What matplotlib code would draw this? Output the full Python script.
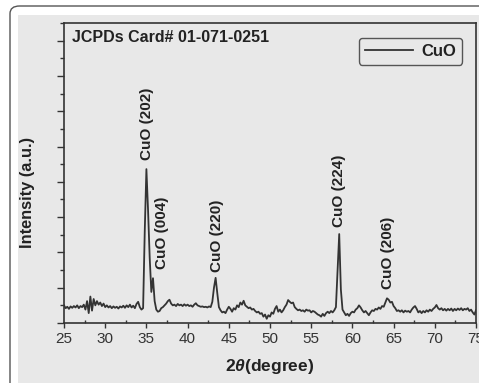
import numpy as np
import matplotlib
matplotlib.use('Agg')
import matplotlib.pyplot as plt
from matplotlib.patches import FancyBboxPatch, Rectangle
from matplotlib.ticker import MultipleLocator, NullFormatter

plt.rcParams['font.family'] = ['Liberation Sans', 'DejaVu Sans']
plt.rcParams['mathtext.fontset'] = 'custom'
plt.rcParams['mathtext.it'] = 'Liberation Sans:italic:bold'
plt.rcParams['mathtext.rm'] = 'Liberation Sans:bold'

# XRD trace, 0.2 degree steps from 25 to 75
intensity = [
    50, 42, 46, 40, 47, 43, 48, 44, 50, 42,        # 25.0 - 26.8
    48, 45, 52, 38, 62, 28, 75, 35, 68, 50,        # 27.0 - 28.8
    62, 52, 58, 48, 55, 45, 50, 44, 48, 42,        # 29.0 - 30.8
    47, 43, 46, 41, 47, 44, 49, 43, 50, 45,        # 31.0 - 32.8
    52, 44, 49, 42, 54, 60, 45, 38, 42, 260,       # 33.0 - 34.8
    436, 320, 185, 88, 127, 62, 38, 32, 34, 42,    # 35.0 - 36.8
    45, 50, 55, 62, 66, 55, 50, 52, 48, 54,        # 37.0 - 38.8
    50, 52, 48, 53, 49, 52, 48, 50, 46, 52,        # 39.0 - 40.8
    56, 50, 48, 46, 47, 45, 46, 44, 47, 45,        # 41.0 - 42.8
    60, 100, 128, 85, 45, 36, 30, 32, 28, 38,      # 43.0 - 44.8
    46, 40, 32, 42, 38, 50, 45, 58, 52, 63,        # 45.0 - 46.8
    50, 46, 42, 44, 38, 40, 34, 30, 32, 26,        # 47.0 - 48.8
    28, 18, 24, 12, 22, 18, 30, 26, 40, 48,        # 49.0 - 50.8
    32, 38, 30, 36, 45, 52, 65, 60, 56, 58,        # 51.0 - 52.8
    45, 40, 36, 38, 34, 36, 32, 38, 35, 36,        # 53.0 - 54.8
    30, 34, 32, 28, 24, 22, 18, 26, 20, 28,        # 55.0 - 56.8
    32, 28, 34, 30, 36, 45, 150, 252, 95, 38,      # 57.0 - 58.8
    30, 22, 26, 20, 28, 32, 30, 38, 42, 50,        # 59.0 - 60.8
    44, 36, 30, 34, 28, 22, 30, 36, 34, 40,        # 61.0 - 62.8
    38, 44, 40, 48, 46, 58, 70, 66, 58, 60,        # 63.0 - 64.8
    48, 42, 34, 36, 32, 36, 30, 35, 32, 34,        # 65.0 - 66.8
    30, 38, 44, 48, 40, 30, 34, 28, 34, 30,        # 67.0 - 68.8
    36, 32, 38, 34, 40, 44, 51, 42, 38, 42,        # 69.0 - 70.8
    36, 40, 35, 40, 36, 41, 34, 40, 36, 41,        # 71.0 - 72.8
    37, 42, 36, 40, 38, 42, 34, 38, 30, 24,        # 73.0 - 74.8
    36,                                            # 75.0
]
two_theta = np.round(25 + 0.2 * np.arange(len(intensity)), 1)

peak_labels = ['CuO (202)', 'CuO (004)', 'CuO (220)', 'CuO (224)', 'CuO (206)']
peak_x = [35.07, 36.9, 43.57, 58.37, 64.3]
peak_y = [462, 153, 144, 272, 96]

W, H = 479, 383
gray = '#e8e8e8'
ink = '#222222'

fig = plt.figure(figsize=(W / 100, H / 100), dpi=100)
fig.patch.set_facecolor('white')

# frame of the panel
fig.patches.append(FancyBboxPatch((10 / W, -0.2), 1.2, 0.2 + 1 - 6 / H,
                                  boxstyle='round,pad=0,rounding_size=0.02',
                                  transform=fig.transFigure, facecolor='white',
                                  edgecolor='#555555', lw=1.0, zorder=-2))
fig.patches.append(Rectangle((18 / W, 0), 1, 1 - 15 / H, transform=fig.transFigure,
                             facecolor=gray, edgecolor='none', zorder=-1))

ax = fig.add_axes([64 / W, 1 - 323 / H, 412 / W, 300 / H])
ax.set_zorder(2)
ax.set_facecolor(gray)

ax.plot(two_theta, intensity, color='#333333', lw=1.3, label='CuO')

for lab, x, y in zip(peak_labels, peak_x, peak_y):
    ax.text(x, y, lab, rotation=90, ha='center', va='bottom', fontsize=11,
            fontweight='bold', color=ink)

ax.text(8 / 412, (323 - 38) / 300, 'JCPDs Card# 01-071-0251', transform=ax.transAxes,
        ha='left', va='center', fontsize=11.5, fontweight='bold', color=ink)

leg = ax.legend(loc='upper right', bbox_to_anchor=((462 - 64) / 412, (323 - 38) / 300),
                borderaxespad=0, handlelength=2.9, handletextpad=0.5, borderpad=0.35,
                prop={'size': 12, 'weight': 'bold'}, fancybox=True, framealpha=1)
leg.get_frame().set_facecolor(gray)
leg.get_frame().set_edgecolor('#555555')
leg.get_frame().set_linewidth(1.0)
for t in leg.get_texts():
    t.set_color(ink)

ax.set_xlim(25, 75)
ax.set_ylim(0, 850)
ax.xaxis.set_major_locator(MultipleLocator(5))
ax.xaxis.set_minor_locator(MultipleLocator(2.5))
ax.yaxis.set_major_locator(MultipleLocator(100))
ax.yaxis.set_minor_locator(MultipleLocator(50))
ax.yaxis.set_major_formatter(NullFormatter())

ax.tick_params(axis='x', which='major', direction='out', length=3.5, width=1,
               labelsize=11, colors='#333333', pad=3)
ax.tick_params(axis='x', which='minor', direction='in', length=2.5, width=1, colors='#333333')
ax.tick_params(axis='y', which='major', direction='out', length=5, width=1, colors='#333333')
ax.tick_params(axis='y', which='minor', direction='out', length=3, width=1, colors='#333333')

for s in ax.spines.values():
    s.set_color('#333333')
    s.set_linewidth(1.2)

ax.set_xlabel(r'2$\mathit{\theta}$(degree)', fontsize=12.5, fontweight='bold', color=ink,
              labelpad=8)
ax.set_ylabel('Intensity (a.u.)', fontsize=11.8, fontweight='bold', color=ink)
ax.yaxis.set_label_coords(-29 / 412, (323 - 192.5) / 300)

fig.savefig('out.png', dpi=100, facecolor=fig.get_facecolor())
